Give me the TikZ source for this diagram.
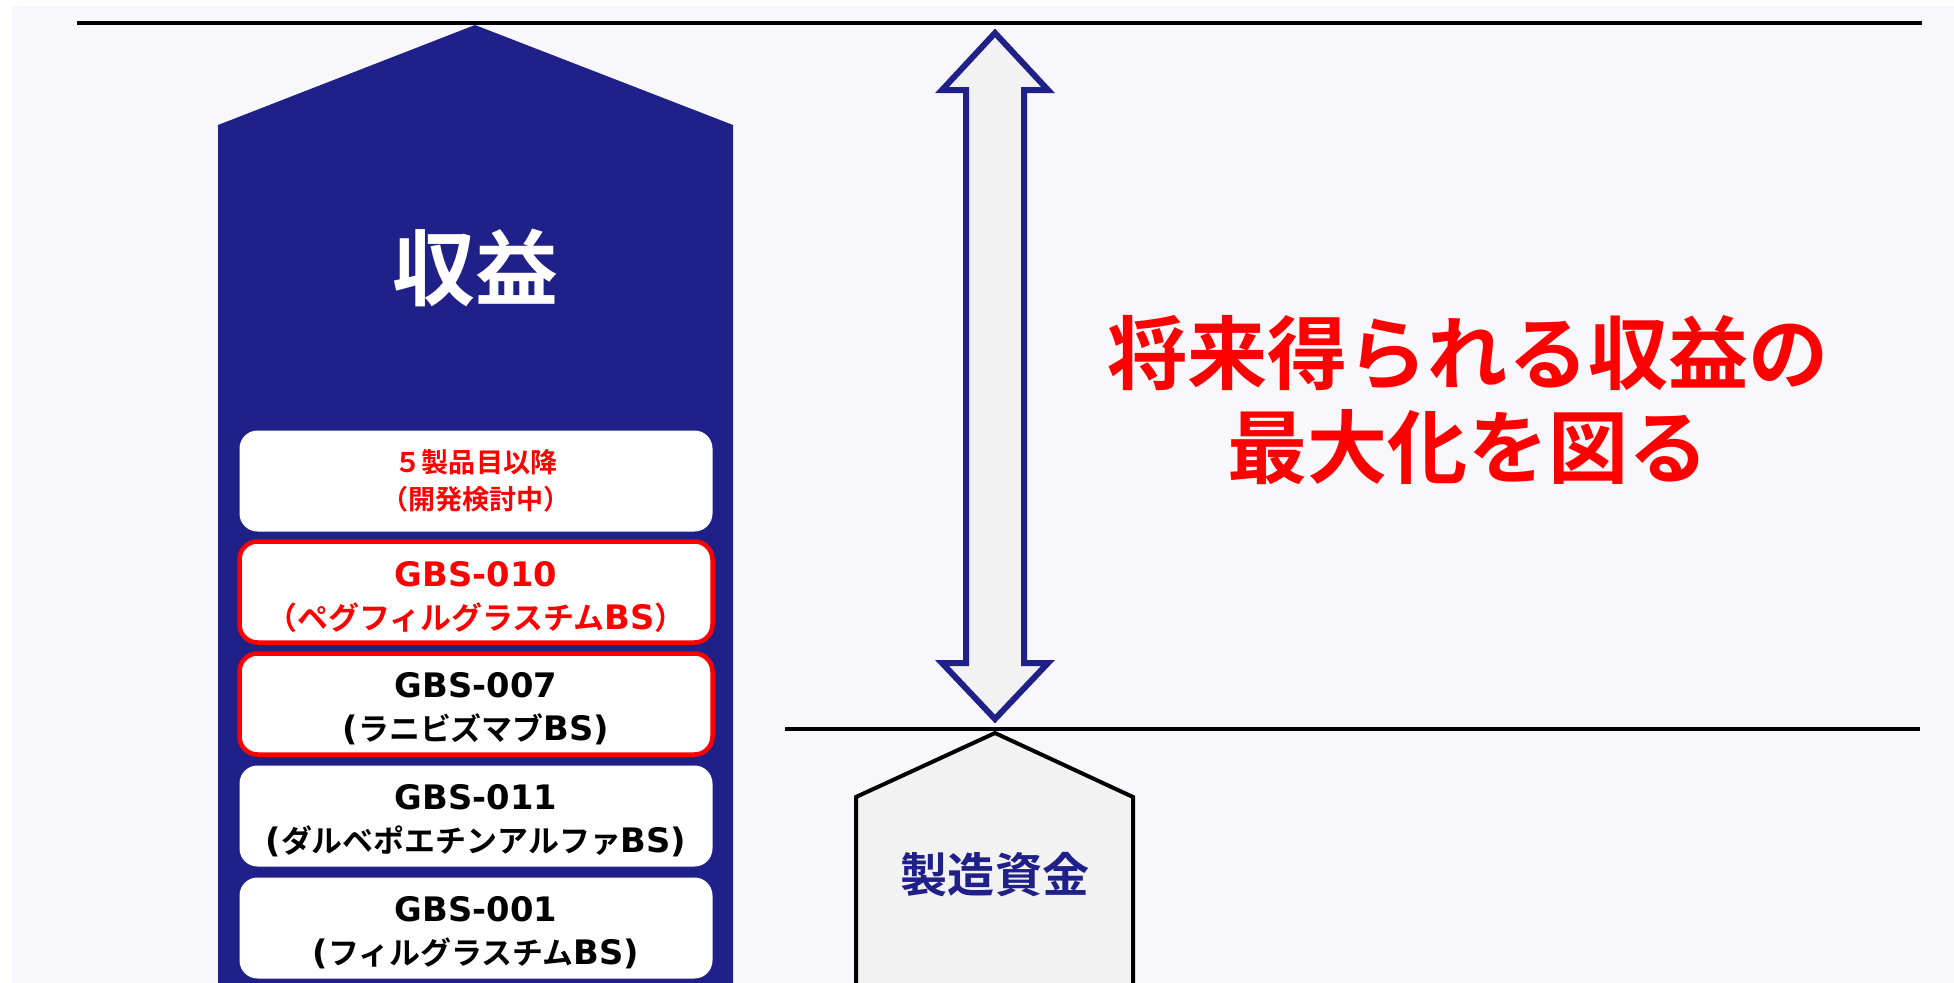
\documentclass[tikz,border=0pt]{standalone}
\usepackage{fontspec}
\newfontfamily\jpfont{Noto Sans CJK JP Bold}
\newfontfamily\latfont{DejaVu Sans Bold}
\usetikzlibrary{calc}
\definecolor{navy}{RGB}{31,32,136}
\definecolor{paper}{RGB}{247,247,252}
\definecolor{pale}{RGB}{242,242,242}
\newcommand\lat[1]{{\latfont\fontsize{9.6pt}{12.2pt}\selectfont #1}}
\begin{document}
\begin{tikzpicture}[x=0.1mm,y=-0.1mm,
  item/.style={fill=white,rounded corners=1.8mm,minimum width=47.3mm,minimum height=10.1mm,inner sep=0pt,align=center,font=\jpfont\fontsize{8.8pt}{12.2pt}\selectfont},
  gbs/.style={item,text height=22pt},
  hot/.style={draw=red,line width=0.45mm},
  rule/.style={draw,line width=0.4mm},
  blockarrow/.style={draw=navy,fill=pale,line width=0.6mm}]
\useasboundingbox (0,0) rectangle (1954,983);
\fill[paper] (12,6) rectangle (1954,983);
\draw[rule] (77,23) -- (1922,23);
\draw[rule] (785,729) -- (1920,729);
\fill[navy] (218,990) -- (218,125) -- (475,25) -- (733,125) -- (733,990) -- cycle;
\draw[fill=pale,line width=0.4mm] (856,995) -- (856,797) -- (995,733) -- (1133,797) -- (1133,995);
\node[text=white,font=\jpfont\fontsize{23.6pt}{28pt}\selectfont] at (475,268) (income) {収益};
\node[item,text=red,font=\jpfont\fontsize{7.7pt}{10.5pt}\selectfont] at (476,481) (box5th) {５製品目以降\\（開発検討中）};
\node[gbs,hot,text=red] at (476,592) (gbs010) {\lat{GBS-010}\\（ペグフィルグラスチム\lat{BS}）};
\node[gbs,hot] at (476,704) (gbs007) {\lat{GBS-007}\\\lat{(}ラニビズマブ\lat{BS)}};
\node[gbs] at (476,816) (gbs011) {\lat{GBS-011}\\\lat{(}ダルベポエチンアルファ\lat{BS)}};
\node[gbs] at (476,928) (gbs001) {\lat{GBS-001}\\\lat{(}フィルグラスチム\lat{BS)}};
\coordinate (toptip) at (995,33);
\coordinate (bottip) at (995,719);
\draw[blockarrow] (toptip) -- ++(53,57) -- ++(-24,0) -- ($(bottip)+(29,-56)$) -- ++(24,0) -- (bottip)
  -- ++(-53,-56) -- ++(24,0) -- ($(toptip)+(-29,57)$) -- ++(-24,0) -- cycle;
\node[text=navy,font=\jpfont\fontsize{13.4pt}{16pt}\selectfont] at (995,875) (fund) {製造資金};
\node[text=red,align=center,font=\jpfont\fontsize{22.8pt}{26.7pt}\selectfont] at (1468,400) (goal) {将来得られる収益の\\最大化を図る};
\end{tikzpicture}
\end{document}
